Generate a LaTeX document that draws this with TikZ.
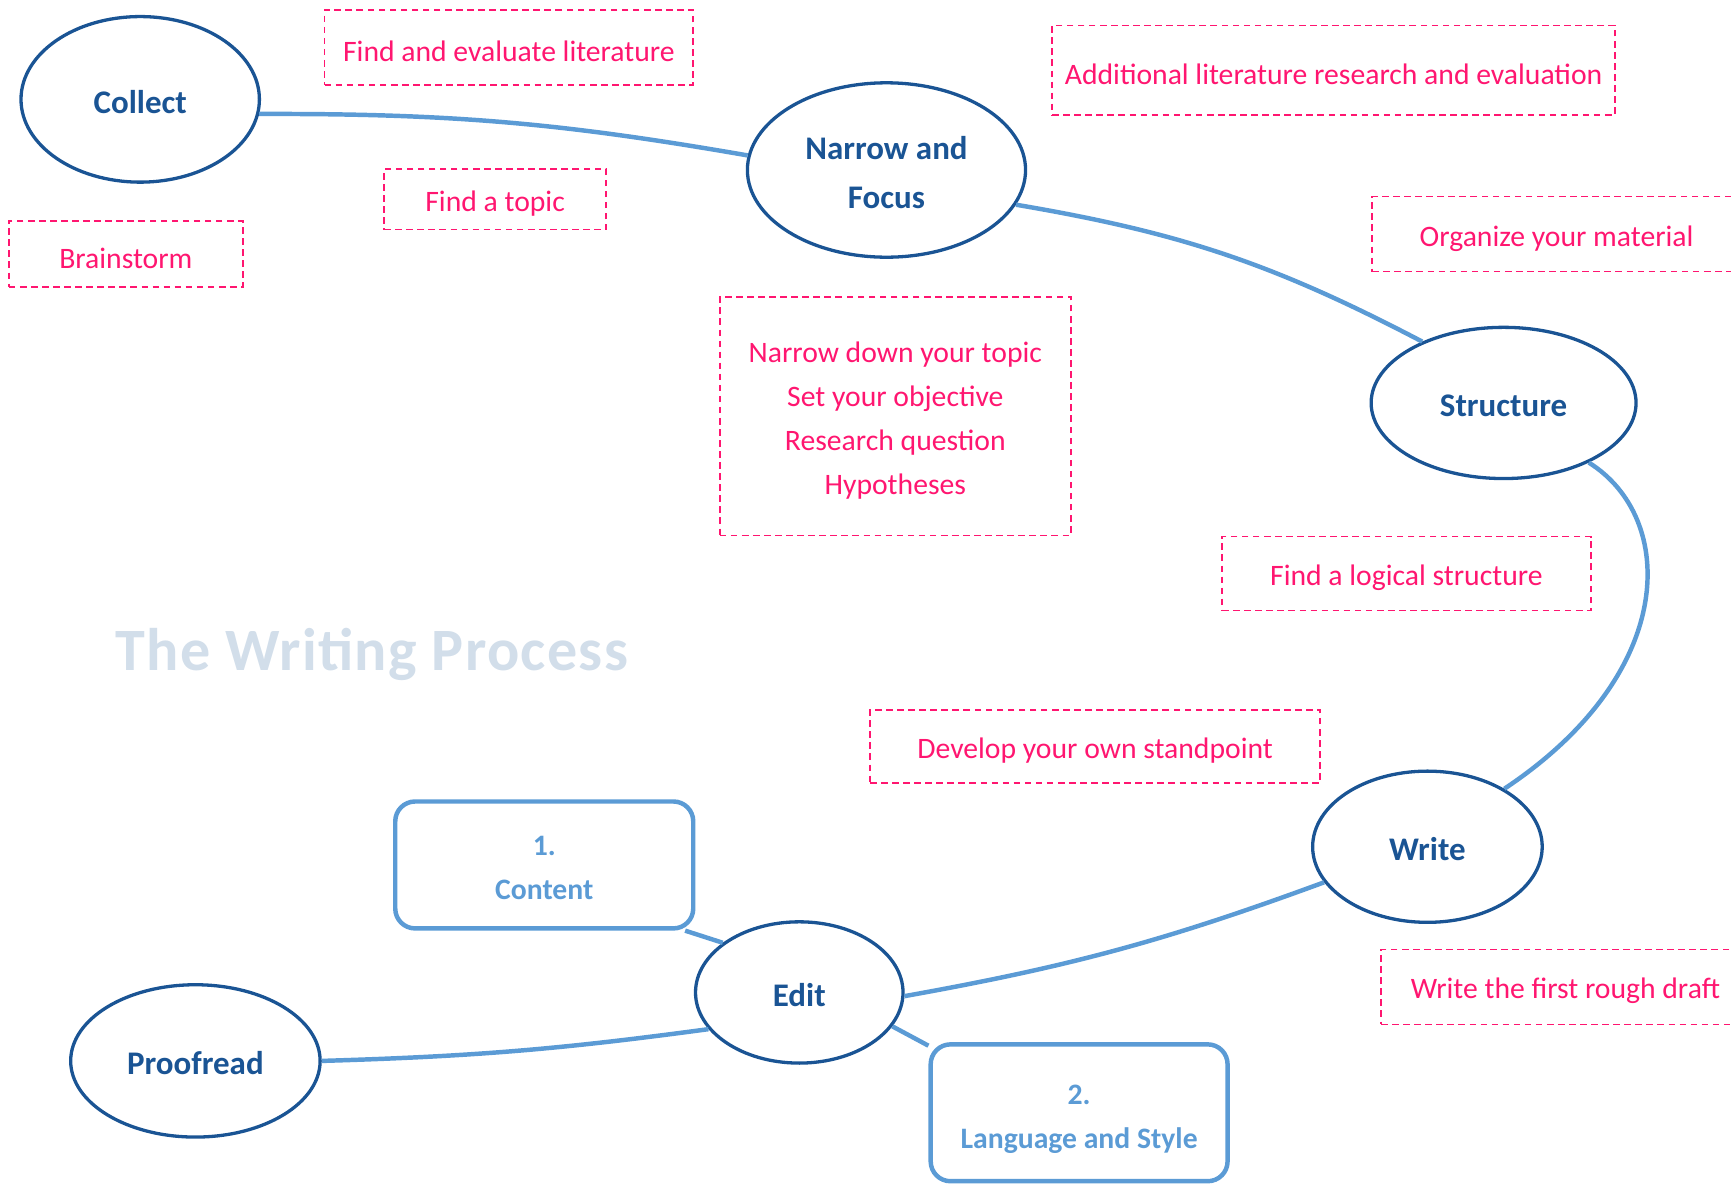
\documentclass[tikz,border=0pt]{standalone}
\usepackage{fontspec}
\setmainfont{Carlito}
\usetikzlibrary{shapes.geometric}
\definecolor{dblue}{HTML}{1A5494}
\definecolor{lblue}{HTML}{5B9BD5}
\definecolor{pinkc}{HTML}{FF1670}
\definecolor{titlec}{HTML}{D2DEEA}
\begin{document}
\begin{tikzpicture}[x=0.02cm,y=-0.02cm,
  stagetext/.style={text=dblue, font=\fontsize{17}{25}\selectfont\bfseries, align=center, yshift=-1.3pt},
  stage/.style={ellipse, draw=dblue, line width=1.7pt, inner sep=0pt, label={[stagetext]center:{#1}}},
  notetext/.style={text=pinkc, font=\fontsize{15.3}{22.7}\selectfont, align=center, yshift=-2.2pt},
  note/.style={draw=pinkc, dash pattern=on 3.4pt off 2.3pt, line width=0.85pt, inner sep=0pt, label={[notetext]center:{#1}}},
  subtext/.style={text=lblue, font=\fontsize{15.3}{22.7}\selectfont\bfseries, align=center, yshift=-1.6pt},
  sub/.style={draw=lblue, rounded corners=0.36cm, line width=2.3pt, inner sep=0pt},
  link/.style={draw=lblue, line width=2.3pt}]
\useasboundingbox (0,0) rectangle (1568,1072.5);

% title
\node[font=\fontsize{31}{31}\selectfont\bfseries\addfontfeature{LetterSpace=2.2}, text=titlec, anchor=base] (title) at (337,607) {The Writing Process};

% stages
\node[stage={Collect}, minimum width=4.32cm, minimum height=3.0cm] (collect) at (127,90) {};
\node[stage={Narrow and\\Focus}, minimum width=5.04cm, minimum height=3.16cm] (narrow) at (803,154) {};
\node[stage={Structure}, minimum width=4.8cm, minimum height=2.74cm] (structure) at (1362,365) {};
\node[stage={Write}, minimum width=4.16cm, minimum height=2.74cm] (write) at (1293,767) {};
\node[stage={Edit}, minimum width=3.76cm, minimum height=2.56cm] (edit) at (724,899) {};
\node[stage={Proofread}, minimum width=4.52cm, minimum height=2.76cm] (proof) at (177,961) {};

% notes
\node[note={Find and evaluate literature}, minimum width=6.68cm, minimum height=1.36cm] (fel) at (461,43) {};
\node[note={Additional literature research and evaluation}, minimum width=10.2cm, minimum height=1.62cm] (alr) at (1208,63.5) {};
\node[note={Find a topic}, minimum width=4.02cm, minimum height=1.1cm] (ft) at (448.5,180.5) {};
\node[note={Brainstorm}, minimum width=4.24cm, minimum height=1.2cm] (bs) at (114,230) {};
\node[note={Organize your material}, minimum width=6.68cm, minimum height=1.36cm] (org) at (1410,212) {};
\node[note={Narrow down your topic\\Set your objective\\Research question\\Hypotheses}, minimum width=6.36cm, minimum height=4.32cm] (nar) at (811,377) {};
\node[note={Find a logical structure}, minimum width=6.68cm, minimum height=1.34cm] (fls) at (1274,519.5) {};
\node[note={Develop your own standpoint}, minimum width=8.16cm, minimum height=1.32cm] (dev) at (992,676) {};
\node[note={Write the first rough draft}, minimum width=6.68cm, minimum height=1.36cm] (wrd) at (1418,894) {};

% edit sub-steps
\node[sub, minimum width=5.4cm, minimum height=2.3cm, label={[subtext]center:{1.\\Content}}] (content) at (493,783.5) {};
\node[sub, minimum width=5.38cm, minimum height=2.48cm, label={[subtext, yshift=-1.7pt]center:{2.\\Language and Style}}] (lang) at (977.5,1008) {};

% connectors
\draw[link] (collect.-7) to[bend left=5] (narrow.174);
\draw[link] (narrow.-15.5) to[bend left=9] (structure.143);
\draw[link] (structure.-35) .. controls +(80,50) and +(158,-105) .. (write.37);
\draw[link] (write.-161.6) to[bend left=5] (edit.-2.4);
\draw[link] (edit.-158) to[bend left=3] (proof.0);
\draw[link] (edit.147) -- (content.-25);
\draw[link] (edit.-20.7) -- (lang.156);
\end{tikzpicture}
\end{document}
